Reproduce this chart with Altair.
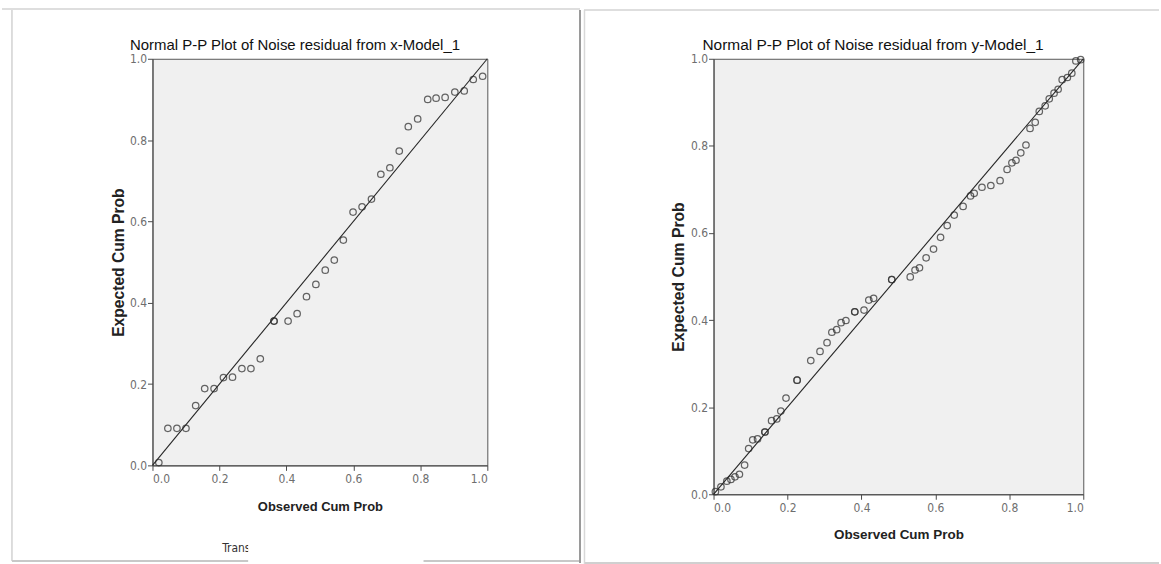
import altair as alt
import pandas as pd

# ---------------- data ----------------
left_title = "Normal P-P Plot of Noise residual from x-Model_1"
right_title = "Normal P-P Plot of Noise residual from y-Model_1"
x_axis_title = "Observed Cum Prob"
y_axis_title = "Expected Cum Prob"
tick_values = [0.0, 0.2, 0.4, 0.6, 0.8, 1.0]
reference_line = [0.0, 1.0]
footnote_text = "Transforms: natural logarithm"

left_observed = [0.019, 0.046, 0.073, 0.100, 0.129, 0.156, 0.184, 0.212, 0.239,
                 0.267, 0.294, 0.322, 0.363, 0.363, 0.405, 0.432, 0.460, 0.488,
                 0.516, 0.543, 0.570, 0.599, 0.626, 0.654, 0.682, 0.709, 0.737,
                 0.764, 0.792, 0.822, 0.847, 0.874, 0.903, 0.931, 0.958, 0.986]
left_expected = [0.007, 0.091, 0.091, 0.091, 0.147, 0.189, 0.189, 0.216, 0.217,
                 0.238, 0.238, 0.262, 0.355, 0.355, 0.355, 0.373, 0.415, 0.445,
                 0.480, 0.505, 0.554, 0.623, 0.636, 0.655, 0.716, 0.732, 0.773,
                 0.833, 0.852, 0.900, 0.903, 0.905, 0.918, 0.921, 0.949, 0.957]

right_observed = [0.005, 0.020, 0.036, 0.047, 0.058, 0.070, 0.084, 0.095, 0.106,
                  0.119, 0.139, 0.139, 0.157, 0.171, 0.182, 0.196, 0.226, 0.226,
                  0.263, 0.288, 0.307, 0.320, 0.333, 0.345, 0.358, 0.382, 0.382,
                  0.407, 0.420, 0.433, 0.482, 0.482, 0.532, 0.545, 0.557, 0.575,
                  0.595, 0.614, 0.632, 0.651, 0.675, 0.695, 0.705, 0.726, 0.750,
                  0.775, 0.794, 0.807, 0.818, 0.831, 0.845, 0.856, 0.870, 0.881,
                  0.897, 0.908, 0.921, 0.932, 0.943, 0.957, 0.969, 0.980, 0.993]
right_expected = [0.006, 0.017, 0.030, 0.034, 0.040, 0.046, 0.067, 0.105, 0.125,
                  0.127, 0.143, 0.143, 0.169, 0.173, 0.191, 0.221, 0.262, 0.262,
                  0.307, 0.328, 0.348, 0.372, 0.378, 0.394, 0.399, 0.419, 0.419,
                  0.423, 0.446, 0.450, 0.493, 0.493, 0.499, 0.515, 0.520, 0.543,
                  0.563, 0.590, 0.617, 0.641, 0.661, 0.685, 0.691, 0.705, 0.709,
                  0.720, 0.746, 0.761, 0.767, 0.784, 0.802, 0.840, 0.854, 0.879,
                  0.892, 0.908, 0.921, 0.930, 0.952, 0.957, 0.967, 0.995, 0.998]

# ---------------- styling ----------------
TITLE_FONT = "Liberation Sans"
NARROW = "Liberation Sans Narrow, Arial Narrow, DejaVu Sans Condensed, sans-serif"
one_row = pd.DataFrame({"d": [0]})


def hline(x1, x2, y, color, w):
    return alt.Chart(one_row).mark_rule(color=color, strokeWidth=w).encode(
        x=alt.value(x1), x2=alt.value(x2), y=alt.value(y))


def vline(x, y1, y2, color, w):
    return alt.Chart(one_row).mark_rule(color=color, strokeWidth=w).encode(
        x=alt.value(x), y=alt.value(y1), y2=alt.value(y2))


def bounds_rect(x1, x2, y1, y2):
    return alt.Chart(one_row).mark_rect(opacity=0).encode(
        x=alt.value(x1), x2=alt.value(x2), y=alt.value(y1), y2=alt.value(y2))


def title_text(text, x, y, size):
    return alt.Chart(one_row).mark_text(
        text=text, align="center", baseline="alphabetic", font=TITLE_FONT,
        fontSize=size, color="#111111").encode(x=alt.value(x), y=alt.value(y))


def panel(obs, exp, W, H, axis_title_size, ytitle_size, ytitle_x, xtitle_y, extra):
    pts = pd.DataFrame({"observed": obs, "expected": exp})
    ref = pd.DataFrame({"observed": reference_line, "expected": reference_line})
    sc = alt.Scale(domain=[0, 1], nice=False, zero=False)
    xenc = alt.X("observed:Q", scale=sc,
                 axis=alt.Axis(values=tick_values, format=".1f", title=x_axis_title,
                               titleY=xtitle_y, titleBaseline="middle",
                               titleFontSize=axis_title_size, labelPadding=3))
    yenc = alt.Y("expected:Q", scale=sc,
                 axis=alt.Axis(values=tick_values, format=".1f", title=y_axis_title,
                               titleX=ytitle_x, titleY=H / 2, titleAngle=-90,
                               titleAlign="center", titleBaseline="middle",
                               titleFontSize=ytitle_size, labelPadding=1))
    line = alt.Chart(ref).mark_line(color="#262626", strokeWidth=1.1).encode(x=xenc, y=yenc)
    points = alt.Chart(pts).mark_point(shape="circle", filled=False, size=42,
                                       strokeWidth=1.25, color="#333333",
                                       opacity=0.75).encode(x=xenc, y=yenc)
    layers = [points, line] + extra
    return alt.layer(*layers).properties(width=W, height=H)


# left panel: plot origin at (152, 57), panel spans x 0..582, y 0..564
left_extra = [
    bounds_rect(-152, 430, -57, 507),
    hline(-151, 429, -50, "#dedede", 2),
    vline(-141, -49, 504, "#d2d2d2", 1.5),
    hline(-141, 428, 504, "#c8c8c8", 2),
    vline(429, -49, 506, "#9a9a9a", 2),
    title_text(left_title, 143, -9, 15),
    alt.Chart(one_row).mark_text(text=footnote_text, align="left", baseline="middle",
                                 font=NARROW, fontSize=12, color="#333333").encode(
        x=alt.value(70), y=alt.value(491)),
    alt.Chart(one_row).mark_rect(color="white").encode(
        x=alt.value(96), x2=alt.value(272), y=alt.value(479), y2=alt.value(507)),
]
# right panel: plot origin at (713, 56), panel spans x 582..1161
right_extra = [
    bounds_rect(-131, 448, -56, 508),
    hline(-130, 447, -49, "#dedede", 2),
    vline(-129.5, -49, 507, "#d8d8d8", 1.5),
    hline(-129, 447, 506, "#d0d0d0", 2),
    title_text(right_title, 160, -9, 15.5),
]

left = panel(left_observed, left_expected, 336, 408, 13, 15.7, -34, 41, left_extra)
right = panel(right_observed, right_expected, 371, 437, 13.5, 15.8, -35, 40, right_extra)

chart = alt.hconcat(left, right, spacing=0).properties(
    padding=0, background="white"
).configure_view(
    fill="#f0f0f0", stroke="#575757", strokeWidth=1
).configure_axis(
    grid=False, domainColor="#4a4a4a", tickColor="#4a4a4a", tickSize=5,
    labelFont=NARROW, labelFontSize=12, labelColor="#6e6e6e",
    titleFont=TITLE_FONT, titleFontWeight="bold", titleColor="#222222"
).configure_concat(spacing=0)

chart.save("out.html", embed_options={"renderer": "svg", "actions": False})
